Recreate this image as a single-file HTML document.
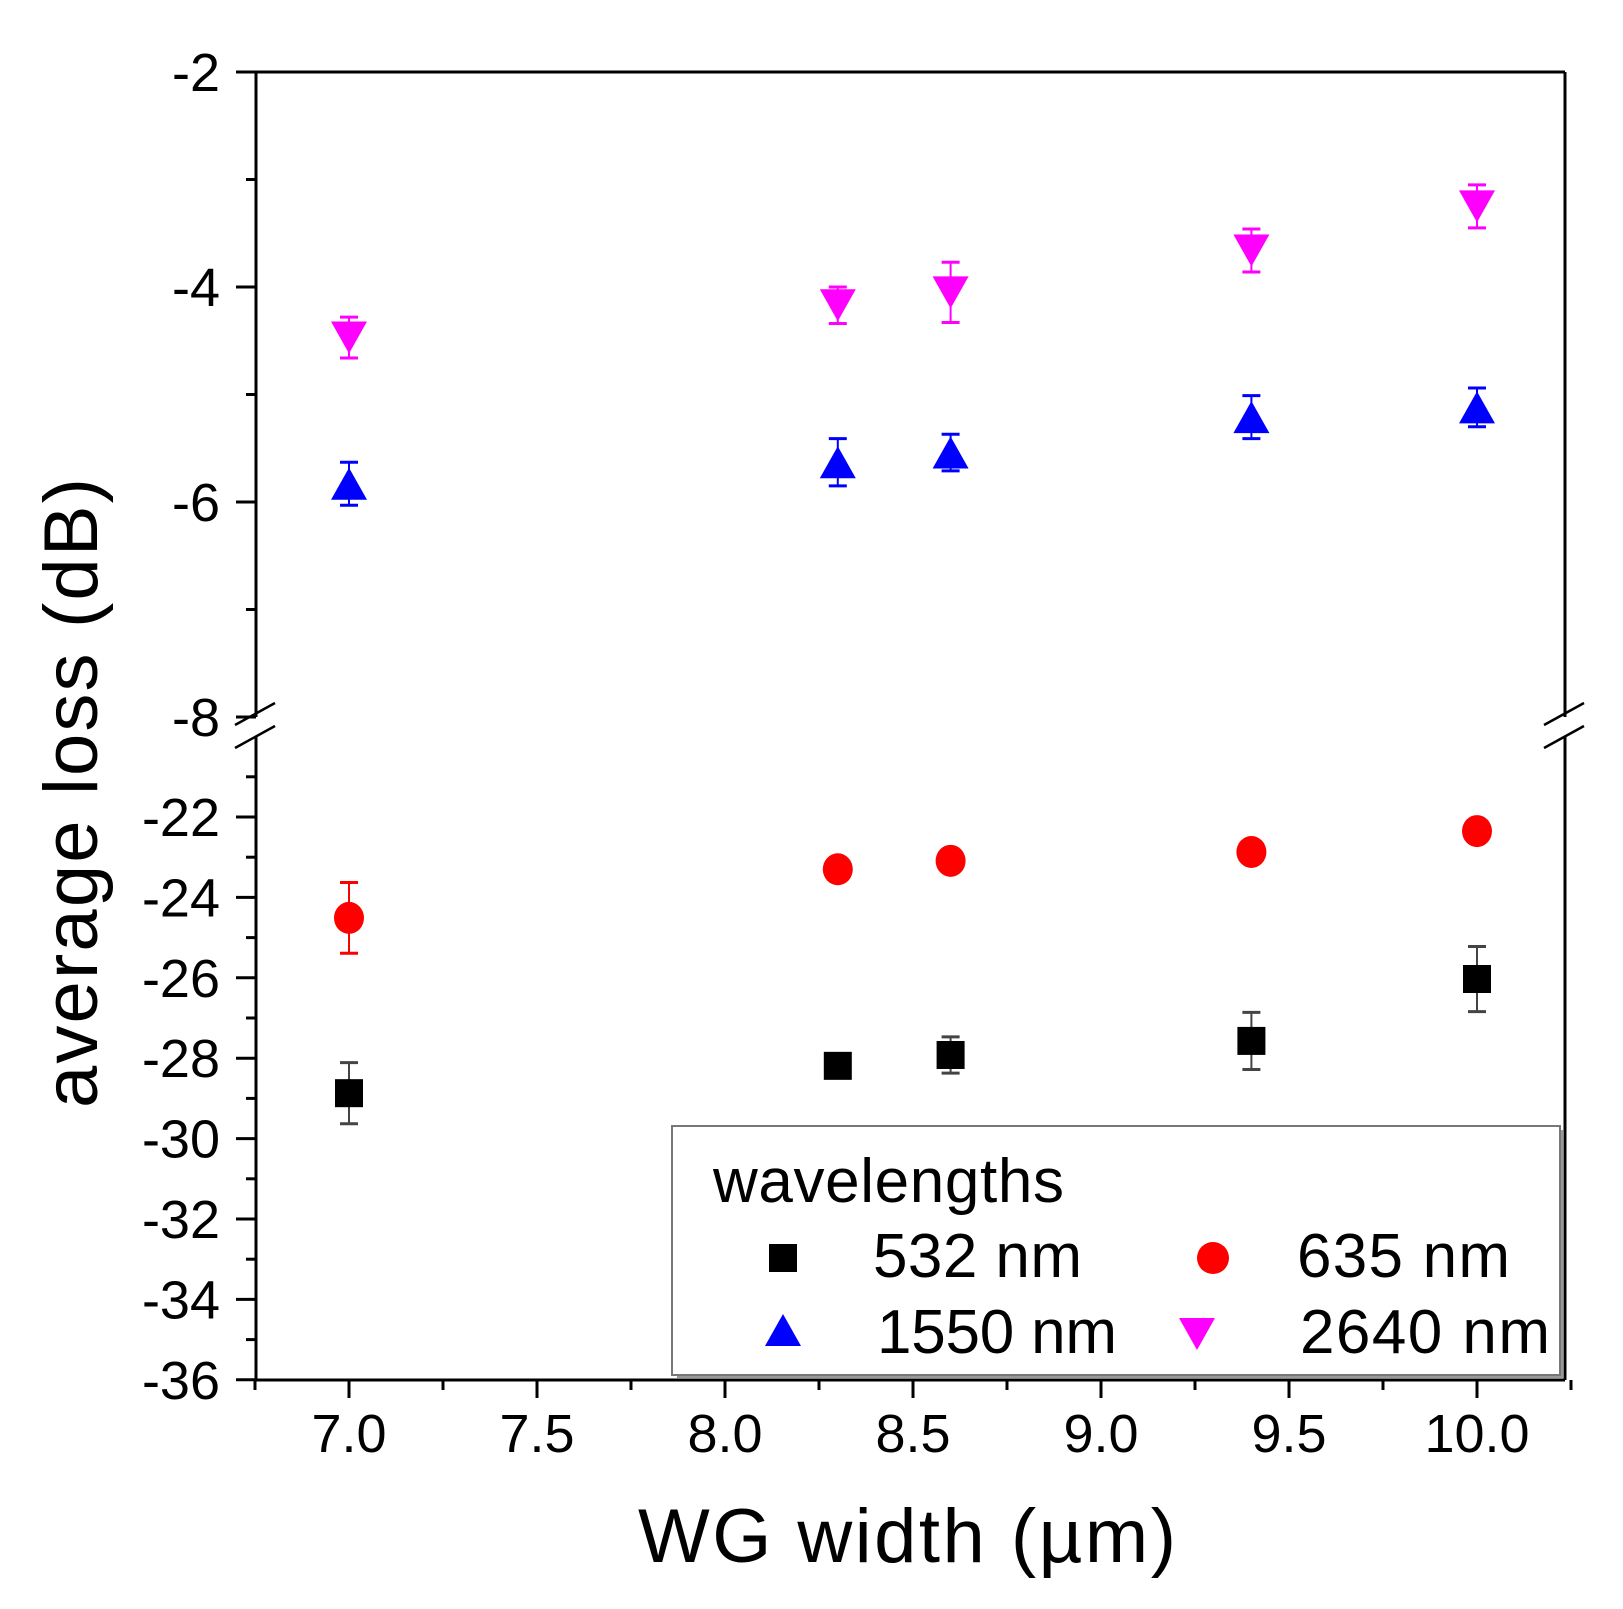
<!DOCTYPE html>
<html><head><meta charset="utf-8"><style>
html,body{margin:0;padding:0;background:#fff;}
svg{display:block;font-family:"Liberation Sans",Arial,sans-serif;}
</style></head><body>
<svg id="chart" width="1623" height="1609" viewBox="0 0 1623 1609" xmlns="http://www.w3.org/2000/svg">
<rect width="1623" height="1609" fill="#fff"/>
<g id="axes"></g>
<g id="marks"></g>
<g id="legend">
  <rect x="677" y="1130" width="886" height="248" fill="#999"/>
  <rect x="672" y="1126" width="888" height="249" fill="#fff" stroke="#777" stroke-width="2"/>
  <text x="713" y="1202" font-size="62" textLength="351">wavelengths</text>
  <rect x="769" y="1244" width="28" height="28" fill="#000"/>
  <text x="873" y="1277" font-size="62" textLength="209">532 nm</text>
  <circle cx="1213" cy="1258" r="16" fill="#f00"/>
  <text x="1297" y="1277" font-size="62" textLength="213">635 nm</text>
  <polygon points="783,1314 801,1346 765,1346" fill="#00f"/>
  <text x="877" y="1353" font-size="62" textLength="240">1550 nm</text>
  <polygon points="1197,1330 1215,1298 1179,1298" transform="translate(0,20)" fill="#f0f"/>
  <text x="1300" y="1353" font-size="62" textLength="250">2640 nm</text>
</g>
<text x="907" y="1562" font-size="76" text-anchor="middle" textLength="538">WG width (µm)</text>
<text transform="translate(97,793) rotate(-90)" font-size="76" text-anchor="middle" textLength="630">average loss (dB)</text>
</svg>
<script>
const xValues = [7.0, 8.3, 8.6, 9.4, 10.0];
const loss532 = [-28.87, -28.19, -27.92, -27.57, -26.03];
const err532 = [0.76, 0.2, 0.45, 0.71, 0.81];
const loss635 = [-24.51, -23.3, -23.09, -22.87, -22.35];
const err635 = [0.88, 0.15, 0.15, 0.15, 0.15];
const loss1550 = [-5.83, -5.63, -5.54, -5.21, -5.12];
const err1550 = [0.2, 0.22, 0.17, 0.2, 0.18];
const loss2640 = [-4.47, -4.17, -4.05, -3.66, -3.25];
const err2640 = [0.19, 0.17, 0.28, 0.2, 0.2];
const xTicks = [7.0, 7.5, 8.0, 8.5, 9.0, 9.5, 10.0];
const yTicksUpper = [-2, -4, -6, -8];
const yTicksLower = [-22, -24, -26, -28, -30, -32, -34, -36];

const NS = "http://www.w3.org/2000/svg";
const L = 256, R = 1565, T = 72, B = 1380;
const upTop = 72, upBot = 717, loTop = 737;
function xs(v){ return 349 + (v - 7.0) * 376; }
function ys(v){ return v >= -10 ? upTop + (-2 - v) * 107.5 : 817 + (-22 - v) * 40.2; }
function mk(tag, attrs, parent){ const e = document.createElementNS(NS, tag); for (const k in attrs) e.setAttribute(k, attrs[k]); parent.appendChild(e); return e; }
const axes = document.getElementById('axes');
const marks = document.getElementById('marks');
const st = {stroke:'#000','stroke-width':3};
let e;
e = mk('line', Object.assign({x1:L,y1:T,x2:R,y2:T}, st), axes);
 
e = mk('line', Object.assign({x1:L,y1:B,x2:R,y2:B}, st), axes);
 
[L, R].forEach(function(x, i){
  let a = mk('line', Object.assign({x1:x,y1:T,x2:x,y2:upBot}, st), axes);
  
  
  let b = mk('line', Object.assign({x1:x,y1:loTop,x2:x,y2:B}, st), axes);
  
  
  let s1 = mk('line', {x1:x-21,y1:725,x2:x+19,y2:703,stroke:'#000','stroke-width':2.5}, axes);
  
  
  let s2 = mk('line', {x1:x-21,y1:748,x2:x+19,y2:726,stroke:'#000','stroke-width':2.5}, axes);
  
  
});
function yTick(v, major){
  const y = ys(v);
  let t = mk('line', {x1: major ? 236 : 246, y1:y, x2:L, y2:y, stroke:'#000','stroke-width':3}, axes);
  
  
}
yTicksUpper.forEach(function(v){
  yTick(v, true);
  const t = mk('text', {x:220, y:ys(v)+19, 'font-size':54, 'text-anchor':'end'}, axes);
  t.textContent = String(v);
  
  
  if (v > -8) yTick(v - 1, false);
});
yTicksLower.forEach(function(v){
  yTick(v, true);
  const t = mk('text', {x:220, y:ys(v)+19, 'font-size':54, 'text-anchor':'end'}, axes);
  t.textContent = String(v);
  
  
  yTick(v + 1, false);
});
xTicks.forEach(function(v){
  const x = xs(v);
  let t = mk('line', {x1:x,y1:B,x2:x,y2:B+18,stroke:'#000','stroke-width':3}, axes);
  
  
  let m = mk('line', {x1:xs(v-0.25),y1:B,x2:xs(v-0.25),y2:B+10,stroke:'#000','stroke-width':3}, axes);
  
  
  const lb = mk('text', {x:x, y:1452, 'font-size':54, 'text-anchor':'middle'}, axes);
  lb.textContent = v.toFixed(1);
  
  
});
let mt = mk('line', {x1:xs(10.25),y1:B,x2:xs(10.25),y2:B+10,stroke:'#000','stroke-width':3}, axes);



function drawSeries(vals, errs, color, errColor, shape, name){
  vals.forEach(function(v, i){
    const x = xs(xValues[i]);
    const y = ys(v), y1 = ys(v + errs[i]), y2 = ys(v - errs[i]);
    const g = mk('g', {}, marks);
    
    
    mk('line', {x1:x,y1:y1,x2:x,y2:y2,stroke:errColor,'stroke-width':2}, g);
    mk('line', {x1:x-9,y1:y1,x2:x+9,y2:y1,stroke:errColor,'stroke-width':3}, g);
    mk('line', {x1:x-9,y1:y2,x2:x+9,y2:y2,stroke:errColor,'stroke-width':3}, g);
    if (shape === 'square') mk('rect', {x:x-14,y:y-14,width:28,height:28,fill:color}, g);
    else if (shape === 'circle') mk('ellipse', {cx:x,cy:y,rx:15,ry:16,fill:color}, g);
    else if (shape === 'up') mk('polygon', {points:(x)+','+(y-16)+' '+(x+18)+','+(y+16)+' '+(x-18)+','+(y+16),fill:color}, g);
    else mk('polygon', {points:(x)+','+(y+16)+' '+(x+18)+','+(y-16)+' '+(x-18)+','+(y-16),fill:color}, g);
  });
}
drawSeries(loss532, err532, '#000', '#444', 'square', 'series-532');
drawSeries(loss635, err635, '#f00', '#f00', 'circle', 'series-635');
drawSeries(loss1550, err1550, '#00f', '#00f', 'up', 'series-1550');
drawSeries(loss2640, err2640, '#f0f', '#f0f', 'down', 'series-2640');
</script>
</body></html>
